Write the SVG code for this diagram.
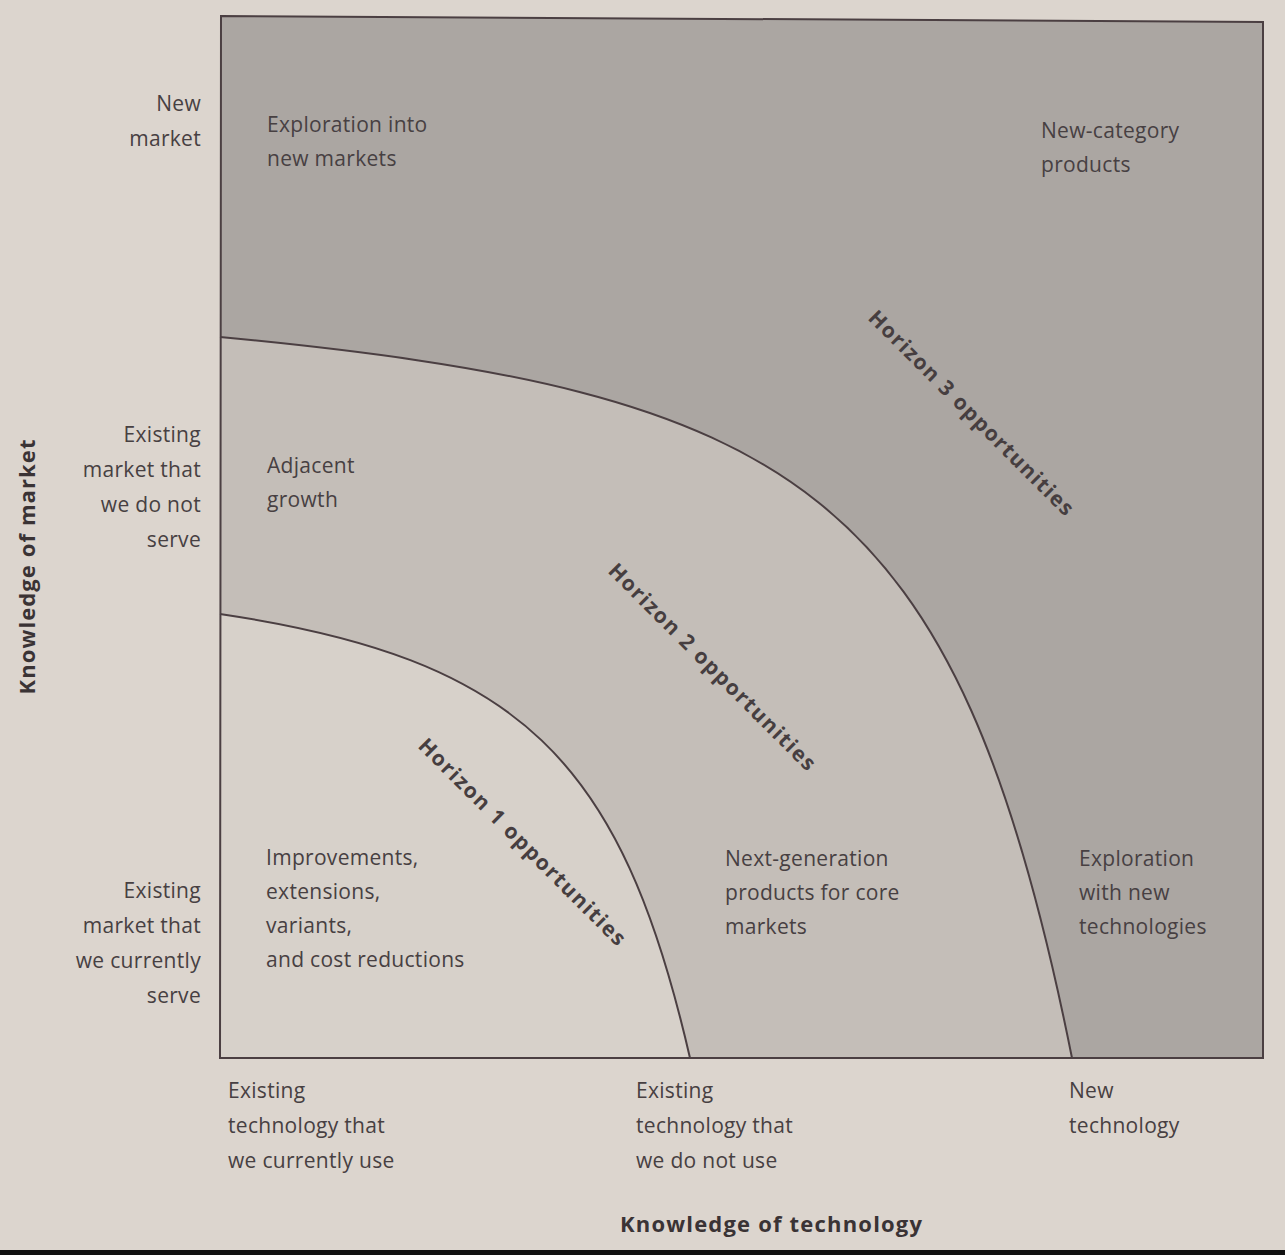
<svg xmlns="http://www.w3.org/2000/svg" width="1285" height="1255" viewBox="0 0 1285 1255">
<style>
.t{font-family:"Open Sans","Liberation Sans",sans-serif;font-size:21px;font-weight:500;fill:#474042;letter-spacing:0.3px}
.r{text-anchor:end}
.h{font-family:"Open Sans","Liberation Sans",sans-serif;font-size:21px;font-weight:700;fill:#463e40;text-anchor:middle}
.ax{font-family:"Open Sans","Liberation Sans",sans-serif;font-size:22px;font-weight:700;fill:#3a3335;text-anchor:middle}
.b{fill:none;stroke:#4b3f42;stroke-width:2}
</style>
<rect x="0" y="0" width="1285" height="1255" fill="#dcd5ce"/>
<rect x="0" y="1250" width="1285" height="5" fill="#111"/>
<g id="horizon3">
<path d="M221,16 L1263,22 L1263,1058 L220,1058 Z" fill="#aba6a2"/>
</g>
<g id="horizon2">
<path d="M220,337 C795,392 957,483 1072,1058 L220,1058 Z" fill="#c4beb8"/>
</g>
<g id="horizon1">
<path d="M220,614 C520,659 621,758 690,1058 L220,1058 Z" fill="#d7d1ca"/>
</g>
<g id="connectors">
<path class="b" d="M220,337 C795,392 957,483 1072,1058"/>
<path class="b" d="M220,614 C520,659 621,758 690,1058"/>
<path class="b" stroke-width="2.5" d="M221,16 L1263,22 L1263,1058 L220,1058 Z"/>
</g>
<g id="region-labels">
<text class="t" x="267" y="132">Exploration into</text>
<text class="t" x="267" y="166">new markets</text>
<text class="t" x="1041" y="138">New-category</text>
<text class="t" x="1041" y="172">products</text>
<text class="t" x="267" y="473">Adjacent</text>
<text class="t" x="267" y="507">growth</text>
<text class="t" x="266" y="865">Improvements,</text>
<text class="t" x="266" y="899">extensions,</text>
<text class="t" x="266" y="933">variants,</text>
<text class="t" x="266" y="967">and cost reductions</text>
<text class="t" x="725" y="866">Next-generation</text>
<text class="t" x="725" y="900">products for core</text>
<text class="t" x="725" y="934">markets</text>
<text class="t" x="1079" y="866">Exploration</text>
<text class="t" x="1079" y="900">with new</text>
<text class="t" x="1079" y="934">technologies</text>
</g>
<g id="horizon-labels">
<text class="h" transform="translate(522,842) rotate(45)" y="7" textLength="283" lengthAdjust="spacing">Horizon 1 opportunities</text>
<text class="h" transform="translate(712,667) rotate(45)" y="7" textLength="283" lengthAdjust="spacing">Horizon 2 opportunities</text>
<text class="h" transform="translate(971,413) rotate(45)" y="7" textLength="280" lengthAdjust="spacing">Horizon 3 opportunities</text>
</g>
<g id="y-axis">
<text class="t r" x="201" y="111">New</text>
<text class="t r" x="201" y="146">market</text>
<text class="t r" x="201" y="442">Existing</text>
<text class="t r" x="201" y="477">market that</text>
<text class="t r" x="201" y="512">we do not</text>
<text class="t r" x="201" y="547">serve</text>
<text class="t r" x="201" y="898">Existing</text>
<text class="t r" x="201" y="933">market that</text>
<text class="t r" x="201" y="968">we currently</text>
<text class="t r" x="201" y="1003">serve</text>
<text class="ax" transform="translate(35,567) rotate(-90)" textLength="255" lengthAdjust="spacing">Knowledge of market</text>
</g>
<g id="x-axis">
<text class="t" x="228" y="1098">Existing</text>
<text class="t" x="228" y="1133">technology that</text>
<text class="t" x="228" y="1168">we currently use</text>
<text class="t" x="636" y="1098">Existing</text>
<text class="t" x="636" y="1133">technology that</text>
<text class="t" x="636" y="1168">we do not use</text>
<text class="t" x="1069" y="1098">New</text>
<text class="t" x="1069" y="1133">technology</text>
<text class="ax" x="771" y="1232" textLength="302" lengthAdjust="spacing">Knowledge of technology</text>
</g>
</svg>
